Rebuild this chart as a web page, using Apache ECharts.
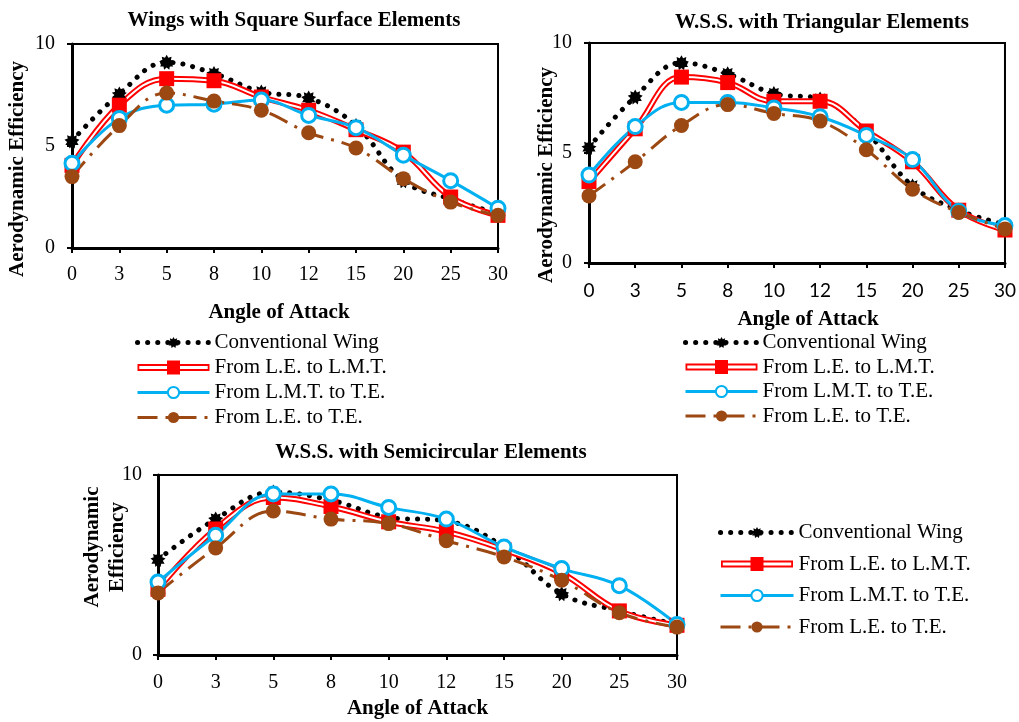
<!DOCTYPE html>
<html>
<head>
<meta charset="utf-8">
<script src="https://cdn.jsdelivr.net/npm/echarts@6/dist/echarts.min.js"></script>
<style>
html,body{margin:0;padding:0;background:#fff;}
#c{width:1019px;height:722px;}
</style>
</head>
<body>
<div id="c"></div>
<script>
// ---- data ----
const angles = ['0','3','5','8','10','12','15','20','25','30'];
const yTicksTop = [0, 5, 10];
const yTicksBottom = [0, 10];

const seriesNames = ['Conventional Wing', 'From L.E. to L.M.T.', 'From L.M.T. to T.E.', 'From L.E. to T.E.'];
const chartTitles = ['Wings with Square Surface Elements', 'W.S.S. with Triangular Elements', 'W.S.S. with Semicircular Elements'];

// Chart 1: Square surface elements
const sqConventional = [5.25, 7.55, 9.1, 8.55, 7.65, 7.35, 6.0, 3.3, 2.4, 1.7];
const sqLEtoLMT      = [4.05, 7.0, 8.3, 8.2, 7.4, 6.75, 5.8, 4.7, 2.5, 1.6];
const sqLMTtoTE      = [4.15, 6.35, 7.0, 7.05, 7.25, 6.5, 5.9, 4.55, 3.3, 1.95];
const sqLEtoTE       = [3.5, 6.0, 7.6, 7.2, 6.75, 5.65, 4.9, 3.4, 2.25, 1.6];

// Chart 2: Triangular elements
const trConventional = [5.25, 7.55, 9.1, 8.6, 7.7, 7.45, 5.95, 3.5, 2.4, 1.75];
const trLEtoLMT      = [3.7, 6.1, 8.45, 8.2, 7.35, 7.35, 6.0, 4.6, 2.4, 1.5];
const trLMTtoTE      = [4.0, 6.2, 7.3, 7.3, 7.05, 6.65, 5.8, 4.7, 2.35, 1.7];
const trLEtoTE       = [3.05, 4.6, 6.25, 7.2, 6.8, 6.45, 5.15, 3.35, 2.3, 1.55];

// Chart 3: Semicircular elements
const seConventional = [5.3, 7.55, 9.05, 8.6, 7.65, 7.45, 6.0, 3.4, 2.45, 1.7];
const seLEtoLMT      = [3.65, 7.0, 8.75, 8.25, 7.4, 6.85, 5.85, 4.55, 2.45, 1.65];
const seLMTtoTE      = [4.05, 6.65, 8.95, 8.95, 8.2, 7.55, 6.0, 4.8, 3.85, 1.7];
const seLEtoTE       = [3.45, 5.95, 8.0, 7.55, 7.3, 6.35, 5.45, 4.15, 2.35, 1.55];

// ---- styles ----
const SERIF = '"Liberation Serif", "Times New Roman", serif';
const SANS2 = 'Lato, "Liberation Sans", sans-serif';
const BLACK = '#000000', RED = '#ff0000', BLUE = '#00b0f0', BROWN = '#9c4813';
const SMOOTH = 0.4;

function starPath(n, rO, rI) {
  let d = '';
  for (let i = 0; i < 2 * n; i++) {
    const r = i % 2 ? rI : rO;
    const a = Math.PI * i / n - Math.PI / 2;
    d += (i ? 'L' : 'M') + (r * Math.cos(a) + 10).toFixed(2) + ',' + (r * Math.sin(a) + 10).toFixed(2);
  }
  return 'path://' + d + 'Z';
}
const STAR = starPath(9, 10, 6.5);
// legend icon for the double red line with a square marker
const RED_ICON = 'path://M0,3.6L72,3.6L72,5.4L0,5.4Z M0,8.6L72,8.6L72,10.4L0,10.4Z M0,3.6L1.8,3.6L1.8,10.4L0,10.4Z M70.2,3.6L72,3.6L72,10.4L70.2,10.4Z M29.5,0L42.5,0L42.5,14L29.5,14Z';

function mkSeries(i, conv, red, blue, brown) {
  const ax = {xAxisIndex: i, yAxisIndex: i, type: 'line', smooth: SMOOTH, emphasis: {disabled: true}, animation: false};
  return [
    Object.assign({}, ax, {
      name: seriesNames[0], data: conv, symbol: STAR, symbolSize: 15,
      itemStyle: {color: BLACK},
      lineStyle: {color: BLACK, width: 5, type: [0.1, 10], cap: 'round'}
    }),
    Object.assign({}, ax, {
      name: seriesNames[1], data: red, symbol: 'rect', symbolSize: 15, showSymbol: false,
      itemStyle: {color: RED},
      lineStyle: {color: RED, width: 6}
    }),
    Object.assign({}, ax, {
      name: '_redInner' + i, data: red, symbol: 'none', silent: true,
      lineStyle: {color: '#ffffff', width: 2}
    }),
    Object.assign({}, ax, {
      name: '_redMarks' + i, data: red, symbol: 'rect', symbolSize: 15,
      itemStyle: {color: RED},
      lineStyle: {opacity: 0, width: 0}
    }),
    Object.assign({}, ax, {
      name: seriesNames[2], data: blue, symbol: 'circle', symbolSize: 14,
      itemStyle: {color: '#ffffff', borderColor: BLUE, borderWidth: 3},
      lineStyle: {color: BLUE, width: 3}
    }),
    Object.assign({}, ax, {
      name: seriesNames[3], data: brown, symbol: 'circle', symbolSize: 15,
      itemStyle: {color: BROWN},
      lineStyle: {color: BROWN, width: 3, type: [20, 8, 3, 8]}
    })
  ];
}

const grids = [
  {left: 72, top: 44, width: 426, height: 204},
  {left: 589, top: 43, width: 418, height: 220},
  {left: 158, top: 475, width: 519, height: 180}
].map(g => Object.assign(g, {show: true, borderColor: BLACK, borderWidth: 2, backgroundColor: 'transparent', containLabel: false}));

function mkX(i, font, size, margin, gap, pad) {
  return {
    type: 'category', gridIndex: i, data: angles, boundaryGap: false,
    axisLine: {lineStyle: {color: BLACK, width: 3}},
    axisTick: {show: true, length: 5, lineStyle: {color: BLACK, width: 2}},
    axisLabel: {color: BLACK, fontFamily: font, fontSize: size, margin: margin},
    splitLine: {show: false},
    name: 'Angle of Attack', nameLocation: 'middle', nameGap: gap, nameMoveOverlap: false,
    nameTextStyle: {color: BLACK, fontFamily: SERIF, fontWeight: 'bold', fontSize: 21, padding: pad}
  };
}
function mkY(i, ticks, margin, name, gap, pad, lh) {
  return {
    type: 'value', gridIndex: i, min: ticks[0], max: ticks[ticks.length - 1], interval: ticks[1] - ticks[0],
    axisLine: {show: true, lineStyle: {color: BLACK, width: 3}},
    axisTick: {show: true, length: 5, lineStyle: {color: BLACK, width: 2}},
    axisLabel: {color: BLACK, fontFamily: SERIF, fontSize: 20, margin: margin},
    splitLine: {show: false},
    name: name, nameLocation: 'middle', nameGap: gap, nameMoveOverlap: false,
    nameTextStyle: {color: BLACK, fontFamily: SERIF, fontWeight: 'bold', fontSize: 21, padding: pad, lineHeight: lh}
  };
}

function mkLegend(left, top, gap, w) {
  return {
    data: [
      {name: seriesNames[0]},
      {name: seriesNames[1], icon: RED_ICON},
      {name: seriesNames[2]},
      {name: seriesNames[3]}
    ],
    orient: 'vertical', left: left, top: top, itemGap: gap, padding: 0,
    itemWidth: w, itemHeight: 14, selectedMode: false,
    lineStyle: {width: 'inherit'},
    textStyle: {color: BLACK, fontFamily: SERIF, fontSize: 21}
  };
}

function titleText(text, x, y) {
  return {type: 'text', x: x, y: y, silent: true,
    style: {text: text, fill: BLACK, font: 'bold 21px ' + SERIF, align: 'center', verticalAlign: 'middle'}};
}

const option = {
  animation: false,
  backgroundColor: '#ffffff',
  grid: grids,
  xAxis: [
    mkX(0, SERIF, 20, 17, 54, [0, 12, 0, 0]),
    mkX(1, SANS2, 19, 18, 46, [0, 0, 0, 22]),
    mkX(2, SERIF, 20, 18, 43, [0, 0, 0, 0])
  ],
  yAxis: [
    mkY(0, yTicksTop, 17, 'Aerodynamic Efficiency', 42, [0, 46, 0, 0], 24),
    mkY(1, yTicksTop, 17, 'Aerodynamic Efficiency', 30, [0, 44, 0, 0], 24),
    mkY(2, yTicksBottom, 16, 'Aerodynamic\nEfficiency', 28, [0, 0, 0, 36], 25)
  ],
  legend: [mkLegend(135, 332, 4, 72), mkLegend(683, 332, 3.5, 72), mkLegend(718, 522, 10.5, 73)],
  graphic: [
    titleText(chartTitles[0], 294, 21),
    titleText(chartTitles[1], 822, 23),
    titleText(chartTitles[2], 431, 453)
  ],
  series: [].concat(
    mkSeries(0, sqConventional, sqLEtoLMT, sqLMTtoTE, sqLEtoTE),
    mkSeries(1, trConventional, trLEtoLMT, trLMTtoTE, trLEtoTE),
    mkSeries(2, seConventional, seLEtoLMT, seLMTtoTE, seLEtoTE)
  )
};

const chart = echarts.init(document.getElementById('c'), null, {renderer: 'canvas'});
chart.setOption(option);
</script>
</body>
</html>
